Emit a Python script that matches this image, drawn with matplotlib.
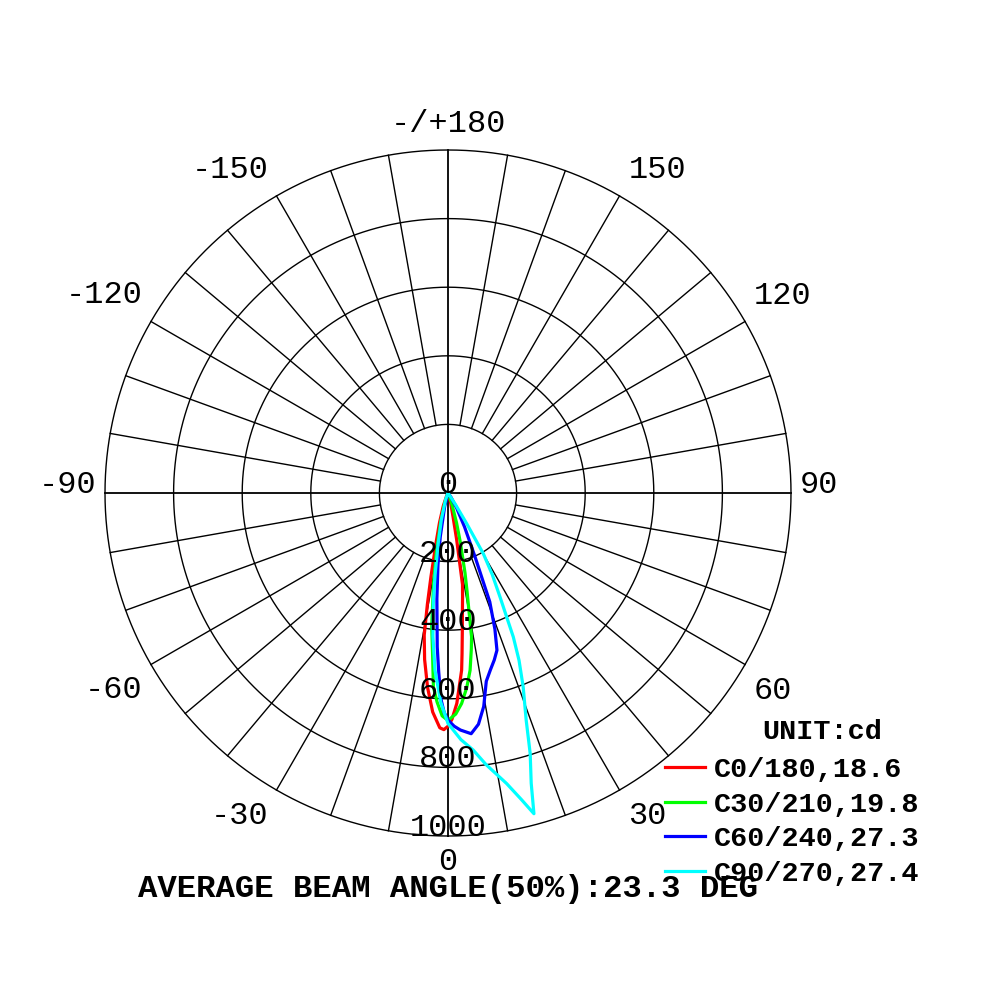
import numpy as np
import matplotlib
matplotlib.use("Agg")
import matplotlib.pyplot as plt

# gamma angle (deg, negative = left half) and intensity (cd) per C-plane
c0_ang = [-25, -20, -16, -13.5, -11.5, -10.5, -9.5, -8, -6, -4, -2, -1, 0, 1, 2.4, 4.4, 5, 6, 7, 8, 9, 10.5, 12, 15, 20, 25]
c0_cd = [10, 40, 90, 150, 250, 330, 420, 490, 570, 640, 685, 690, 680, 660, 614, 518, 470, 400, 345, 305, 270, 139, 70, 30, 10, 0]

c30_ang = [-25, -18, -14, -11, -9, -7, -5.5, -4.3, -3, -1.5, 0, 2, 3.7, 5.5, 7.1, 8.5, 9.3, 10.2, 11, 12, 14, 16, 20, 25]
c30_cd = [0, 30, 90, 180, 270, 390, 470, 567, 610, 650, 663, 645, 615, 570, 521, 460, 425, 340, 290, 239, 150, 90, 30, 0]

c60_ang = [-20, -14, -10, -8, -6, -4, -3, -2, -1, 0, 1.5, 3, 5.5, 7.5, 9.5, 11.5, 13.5, 15.5, 17.3, 19, 21, 23, 26, 30, 35, 40]
c60_cd = [0, 40, 130, 210, 310, 450, 520, 600, 640, 662, 680, 692, 705, 680, 631, 560, 530, 505, 480, 420, 340, 200, 110, 50, 15, 0]

c90_ang = [-30, -20, -14, -11, -9, -7.6, -6, -4.2, -2, 0, 3, 5.6, 8, 11.4, 13.5, 15, 16, 17.5, 19, 21.2, 23, 24.4, 26.6, 28.5, 30.2, 31.4, 33, 36]
c90_cd = [0, 20, 80, 150, 240, 325, 420, 518, 610, 672, 720, 753, 800, 864, 920, 968, 880, 797, 700, 606, 530, 461, 338, 270, 205, 105, 40, 0]

series = [
    ("C0/180,18.6", c0_ang, c0_cd, "#ff0000"),
    ("C30/210,19.8", c30_ang, c30_cd, "#00ff00"),
    ("C60/240,27.3", c60_ang, c60_cd, "#0000ff"),
    ("C90/270,27.4", c90_ang, c90_cd, "#00ffff"),
]

rings = [200, 400, 600, 800, 1000]
angle_labels = [0, 30, 60, 90, 120, 150, 180, -150, -120, -90, -60, -30]

font = "Liberation Mono"

fig = plt.figure(figsize=(10, 10), dpi=100)
ax = fig.add_axes([0.105, 0.164, 0.686, 0.686], projection="polar")
ax.set_theta_zero_location("S")
ax.set_ylim(0, 1000)
ax.grid(False)
ax.set_xticks([])
ax.set_yticks([])
ax.spines["polar"].set_visible(False)

# grid
th = np.linspace(0, 2 * np.pi, 721)
for r in rings:
    ax.plot(th, np.full_like(th, r), color="black", lw=1.0, clip_on=False)
for a in range(0, 360, 10):
    t = np.deg2rad(a)
    if a % 90 == 0:
        ax.plot([t, t], [0, 1000], color="black", lw=1.3, clip_on=False)
    else:
        ax.plot([t, t], [200, 1000], color="black", lw=1.0, clip_on=False)

# curves
handles = []
for name, ang, cd, col in series:
    h, = ax.plot(np.deg2rad(ang), cd, color=col, lw=2.3, label=name, zorder=5)
    handles.append(h)

# radial labels along 0 deg
for r in [0] + rings:
    ax.text(0, r, str(r), ha="center", va="baseline", fontsize=23,
            family=font, zorder=6)

# angle labels just outside the outer ring
for a in angle_labels:
    txt = "-/+180" if a == 180 else str(a)
    if a in (0, 180):
        ha, dx = "center", 0
    elif a > 0:
        ha, dx = "left", 9
    else:
        ha, dx = "right", -8
    if abs(a) < 90:
        dy = -34
    elif abs(a) == 90:
        dy = 0
    else:
        dy = 18
    ax.annotate(txt, xy=(np.deg2rad(a), 1000), xytext=(dx, dy),
                textcoords="offset pixels", ha=ha, va="baseline",
                fontsize=23, family=font, annotation_clip=False)

fig.text(0.448, 0.111, "AVERAGE BEAM ANGLE(50%):23.3 DEG", ha="center",
         va="center", fontsize=23.3, family=font, weight="bold")
fig.text(0.822, 0.268, "UNIT:cd", ha="center", va="center", fontsize=20.5,
         family=font, weight="bold")

ax.legend(handles=handles, loc="upper left", bbox_to_anchor=(0.665, 0.243),
          bbox_transform=fig.transFigure, frameon=False, borderpad=0,
          borderaxespad=0, handlelength=1.4, handletextpad=0.3,
          labelspacing=0.3,
          prop={"family": font, "size": 20.5, "weight": "bold"})

fig.savefig("out.png", dpi=100, facecolor="white")
